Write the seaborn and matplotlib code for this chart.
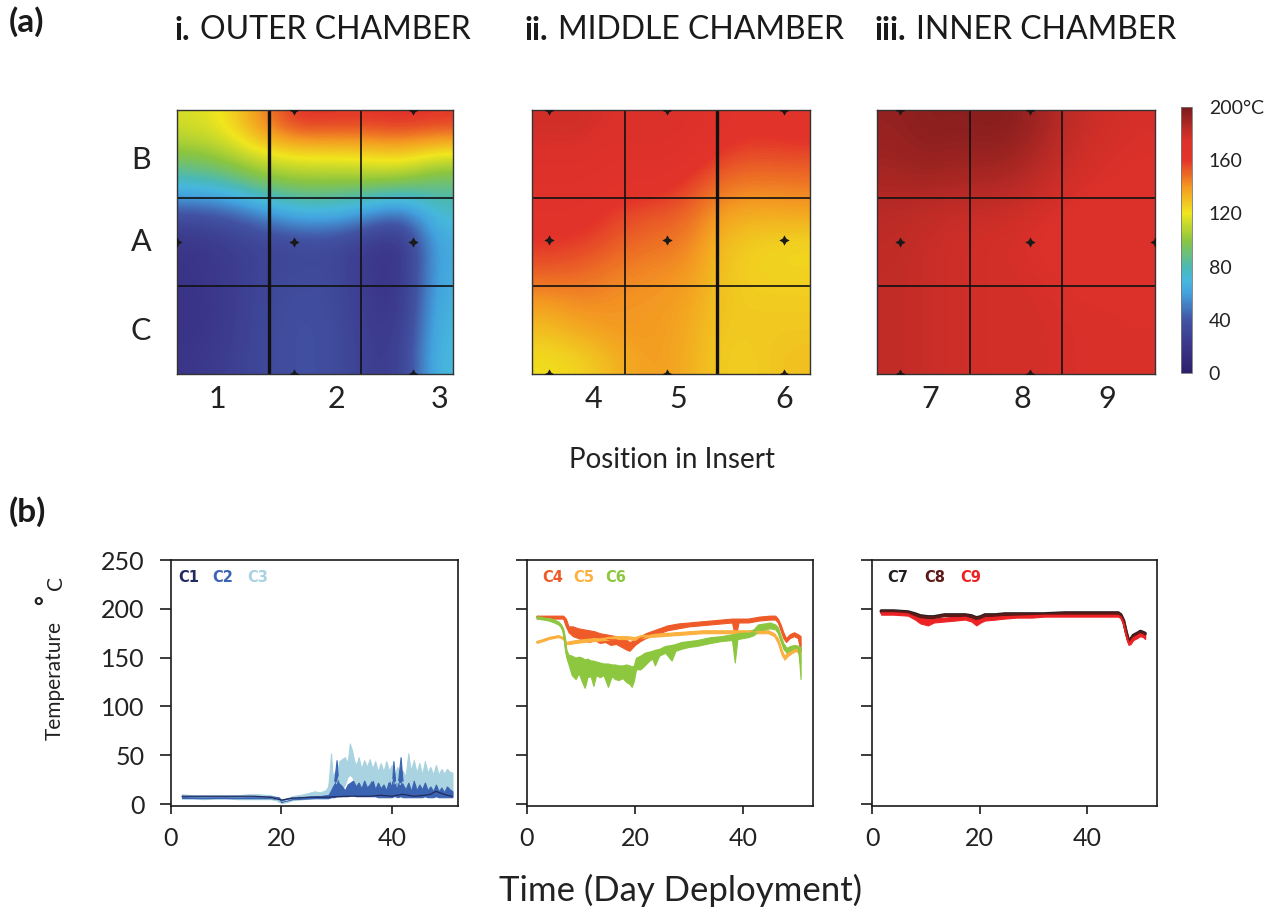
import numpy as np
import pandas as pd
import matplotlib
matplotlib.use("Agg")
import matplotlib.pyplot as plt
from matplotlib.colors import LinearSegmentedColormap
import seaborn as sns

# ---------------------------------------------------------------- data
ROW_LABELS = ["B", "A", "C"]
COLUMN_LABELS = [["1", "2", "3"], ["4", "5", "6"], ["7", "8", "9"]]
CHAMBER_NAMES = [("i.", "OUTER CHAMBER"), ("ii.", "MIDDLE CHAMBER"), ("iii.", "INNER CHAMBER")]

# temperature fields (deg C), rows top->bottom, columns left->right
OUTER_T = [
    [115, 122, 145, 162, 160, 160, 162, 160],
    [100, 108, 118, 122, 122, 124, 128, 118],
    [75, 82, 95, 100, 100, 100, 98, 88],
    [38, 42, 55, 68, 68, 58, 45, 75],
    [20, 25, 30, 32, 33, 24, 16, 65],
    [20, 24, 31, 34, 34, 23, 18, 65],
    [19, 24, 32, 37, 35, 24, 18, 68],
    [19, 24, 33, 38, 36, 25, 22, 70],
    [21, 26, 33, 38, 36, 26, 24, 72],
]
MIDDLE_T = [
    [178, 178, 174, 176, 174, 166, 162, 165],
    [174, 175, 170, 173, 168, 157, 155, 156],
    [170, 170, 164, 165, 158, 148, 146, 147],
    [165, 164, 157, 154, 151, 138, 135, 137],
    [160, 158, 152, 148, 146, 130, 126, 124],
    [152, 150, 145, 143, 141, 128, 125, 125],
    [140, 144, 141, 140, 138, 128, 127, 127],
    [130, 137, 140, 140, 136, 127, 128, 128],
    [122, 125, 134, 140, 135, 126, 127, 130],
]
INNER_T = [
    [193, 196, 195, 197, 192, 183, 178, 176],
    [191, 194, 192, 193, 188, 180, 176, 175],
    [188, 189, 187, 187, 183, 177, 175, 174],
    [184, 182, 180, 180, 177, 174, 173, 173],
    [183, 180, 178, 177, 175, 173, 173, 173],
    [182, 180, 178, 177, 176, 174, 174, 174],
    [182, 180, 178, 177, 177, 175, 175, 175],
    [182, 180, 178, 177, 177, 176, 175, 175],
    [182, 180, 178, 177, 177, 176, 175, 175],
]

# logger locations inside each insert (column units, row units from top)
OUTER_SENSOR_X = [1.27, 2.57, 0.0, 1.27, 2.57, 1.27, 2.57]
OUTER_SENSOR_Y = [0.0, 0.0, 1.5, 1.5, 1.5, 3.0, 3.0]
MIDDLE_SENSOR_X = [0.18, 1.46, 2.72, 0.18, 1.46, 2.72, 0.18, 1.46, 2.72]
MIDDLE_SENSOR_Y = [0.0, 0.0, 0.0, 1.48, 1.48, 1.48, 3.0, 3.0, 3.0]
INNER_SENSOR_X = [0.25, 1.65, 0.25, 1.65, 3.0, 0.25, 1.65]
INNER_SENSOR_Y = [0.0, 0.0, 1.5, 1.5, 1.5, 3.0, 3.0]

CBAR_TICKS = [0, 40, 80, 120, 160, 200]
CBAR_LABELS = ["0", "40", "80", "120", "160", "200°C"]

# logger traces: day of deployment, lower / upper envelope of the record (deg C)
C3_DAY = [2, 4, 6, 8, 10, 12, 14, 16, 18, 19, 20, 21, 22, 24, 26, 27, 28,
          28.5, 29.0, 29.3, 29.7, 30.0, 30.5, 31.0, 31.5, 32.0, 32.4, 32.8, 33.2, 33.6,
          34.0, 34.5, 35.0, 35.5, 36.0, 36.5, 37.0, 37.5, 38.0, 38.5, 39.0, 39.5,
          40.0, 40.5, 41.0, 41.5, 42.0, 42.5, 43.0, 43.4, 44.0, 44.5, 45.0, 45.5,
          46.0, 46.5, 47.0, 47.5, 48.0, 48.5, 49.0, 49.5, 50.0, 50.5, 51.0]
C3_LO = [6, 6, 5, 6, 6, 5, 5, 5, 5, 4, 1, 2, 4, 5, 6, 6, 6,
         6, 8, 10, 12, 12, 13, 15, 20, 28, 30, 28, 24, 16,
         11, 12, 11, 12, 12, 11, 11, 12, 11, 11, 12, 11,
         11, 11, 10, 10, 11, 11, 11, 11, 11, 10, 11, 10,
         11, 11, 10, 10, 11, 10, 11, 10, 10, 10, 10]
C3_HI = [10, 9, 9, 9, 9, 9, 10, 10, 9, 7, 5, 6, 8, 10, 13, 12, 14,
         18, 52, 28, 33, 30, 44, 46, 48, 42, 62, 55, 44, 40,
         48, 36, 45, 38, 46, 36, 44, 33, 42, 33, 44, 34,
         40, 30, 38, 30, 34, 28, 52, 34, 45, 32, 42, 30,
         44, 32, 38, 30, 40, 30, 36, 31, 36, 33, 32]

C2_DAY = [2, 6, 10, 14, 18, 19.5, 20, 20.5, 22, 26, 28,
          28.5, 29.0, 29.5, 30.0, 30.3, 31.0, 31.5, 32.0, 32.5, 33.0, 33.5, 34.0,
          34.5, 35.0, 35.5, 36.0, 36.5, 37.0, 37.5, 38.0, 38.5, 39.0, 39.5, 40.0,
          40.3, 40.7, 41.0, 41.6, 42.0, 42.5, 43.0, 43.5, 44.0, 44.5, 45.0, 45.5,
          46.0, 46.5, 47.0, 47.5, 48.0, 48.5, 49.0, 49.5, 50.0, 50.5, 51.0]
C2_LO = [6, 6, 6, 6, 6, 5, 2, 3, 5, 6, 6,
         6, 7, 7, 8, 8, 8, 8, 8, 9, 9, 8, 8,
         8, 8, 8, 8, 8, 8, 7, 7, 7, 7, 7, 7,
         8, 8, 7, 8, 7, 7, 7, 7, 7, 7, 7, 7,
         8, 7, 7, 7, 8, 7, 7, 7, 7, 7, 7]
C2_HI = [8, 8, 8, 8, 8, 7, 4, 5, 7, 8, 9,
         9, 14, 20, 45, 22, 18, 14, 20, 22, 24, 18, 22,
         16, 24, 17, 20, 25, 15, 22, 16, 20, 14, 24, 17,
         44, 18, 16, 48, 20, 15, 22, 13, 24, 14, 20, 15,
         22, 14, 18, 13, 20, 13, 17, 12, 18, 15, 13]

C1_DAY = [2, 5, 10, 15, 18, 20, 22, 25, 28, 32, 36, 38, 40, 42, 44, 46, 47, 48, 49, 50, 51]
C1_T = [8, 8, 8, 8, 7, 4, 6, 7, 7, 8, 8, 9, 8, 10, 8, 9, 10, 13, 11, 9, 8]

C4_DAY = [1.8, 4, 6.7, 7.2, 7.7, 8.5, 9.5, 10.5, 11.5, 12.5, 13.5, 14.5, 15.5, 16.5, 17.5,
          18.5, 19.0, 19.5, 20.0, 21.0, 22.0, 23.0, 24.0, 25.0, 26.0, 28.0, 30.0, 32.0,
          34.0, 36.0, 38.0, 38.6, 39.2, 41.0, 43.0, 45.0, 46.0, 46.5, 47.0, 47.5, 48.0,
          48.7, 49.5, 50.2, 50.7]
C4_LO = [190, 190, 190, 182, 176, 172, 170, 168, 166, 168, 165, 166, 163, 164, 161,
         158, 157, 160, 163, 167, 170, 172, 174, 176, 178, 180, 182, 183,
         184, 185, 186, 170, 186, 186, 188, 189, 189, 186, 178, 170, 166,
         170, 172, 170, 156]
C4_HI = [193, 193, 193, 190, 182, 182, 180, 179, 178, 177, 175, 174, 173, 172, 170,
         168, 166, 167, 168, 172, 175, 177, 179, 181, 183, 185, 186, 187,
         188, 189, 190, 190, 190, 190, 192, 193, 193, 190, 184, 176, 170,
         174, 176, 174, 172]

C5_DAY = [1.8, 3, 4, 5.8, 6.7, 7.3, 8.0, 9.0, 10.5, 12.5, 14.5, 16.5, 18.5, 20.0, 21.0,
          22.5, 25.0, 27.5, 30.0, 32.5, 35.0, 37.5, 40.0, 42.5, 44.7, 45.8, 46.5, 47.2,
          47.7, 48.4, 49.2, 49.9, 50.6]
C5_LO = [165, 167, 169, 171, 169, 164, 164, 165, 166, 167, 168, 169, 169, 168, 170,
         171, 172, 173, 174, 175, 175, 175, 175, 175, 175, 172, 165, 153,
         148, 152, 155, 157, 153]
C5_HI = [167, 169, 171, 173, 171, 166, 167, 168, 169, 170, 171, 172, 172, 171, 173,
         174, 175, 176, 177, 178, 178, 178, 178, 178, 178, 175, 170, 158,
         152, 156, 158, 160, 157]

C6_DAY = [1.8, 3.0, 4.0, 5.0, 5.8, 6.3, 6.7, 7.0, 7.3, 7.7, 8.3, 9.0, 9.6, 10.2, 10.7,
          11.2, 11.8, 12.3, 12.8, 13.5, 14.2, 15.0, 15.7, 16.3, 17.0, 17.7, 18.4, 19.0,
          19.4, 19.8, 20.2, 21.0, 21.8, 22.5, 23.2, 23.7, 24.5, 25.6, 26.8, 27.5, 28.6,
          30.0, 31.5, 32.3, 34.0, 36.0, 38.0, 38.5, 39.0, 41.0, 42.0, 42.8, 44.0, 45.0,
          46.0, 46.5, 47.0, 47.5, 48.1, 48.8, 49.6, 50.3, 50.7]
C6_LO = [190, 189, 188, 186, 184, 181, 175, 160, 150, 143, 132, 128, 134, 125, 119,
         130, 131, 121, 132, 130, 132, 120, 131, 128, 127, 129, 125, 123,
         120, 126, 138, 138, 142, 146, 149, 142, 152, 155, 147, 157, 159,
         161, 162, 163, 165, 167, 168, 145, 169, 171, 173, 177, 179, 180,
         179, 175, 167, 159, 155, 157, 158, 158, 128]
C6_HI = [193, 192, 191, 189, 187, 184, 180, 172, 158, 153, 152, 150, 151, 150, 148,
         149, 147, 147, 146, 145, 144, 144, 143, 143, 142, 142, 143, 142,
         141, 142, 150, 152, 155, 156, 157, 158, 159, 162, 163, 164, 166,
         167, 168, 169, 171, 172, 174, 174, 175, 177, 179, 184, 185, 186,
         184, 181, 173, 165, 160, 162, 163, 162, 161]

INNER_DAY = [1.7, 4, 6.7, 8, 9, 10.4, 11.5, 13.5, 15.5, 17.3, 18.5, 19.4, 20.2, 21, 23,
             24.7, 27, 29.7, 32, 35.9, 38, 40, 42.1, 44, 45.8, 46.3, 46.8, 47.3, 47.7,
             48.1, 48.6, 49.3, 49.9, 50.4, 50.8]
C7_T = [198, 198, 197, 195, 193, 192, 192, 194, 194, 194, 193, 191, 192, 194, 194,
        195, 195, 195, 195, 196, 196, 196, 196, 196, 196, 194, 188, 176, 168,
        169, 173, 175, 177, 176, 175]
C8_T = [197, 197, 196, 194, 192, 191, 191, 193, 193, 193, 192, 190, 191, 193, 193,
        194, 194, 194, 194, 195, 195, 195, 195, 195, 195, 193, 187, 175, 167,
        168, 172, 174, 176, 175, 174]
C9_LO = [194, 194, 193, 189, 185, 183, 186, 187, 188, 189, 187, 183, 186, 188, 189,
         190, 191, 191, 192, 192, 192, 192, 192, 192, 192, 190, 183, 171, 163,
         164, 168, 170, 172, 171, 169]
C9_HI = [197, 197, 196, 193, 191, 190, 190, 191, 192, 193, 191, 189, 190, 192, 193,
         193, 193, 194, 194, 194, 194, 194, 194, 194, 194, 192, 187, 175, 167,
         168, 172, 174, 176, 175, 173]

SERIES_NAMES = [["C1", "C2", "C3"], ["C4", "C5", "C6"], ["C7", "C8", "C9"]]
SERIES_COLORS = [["#232a5e", "#3a63b1", "#a9d3e0"],
                 ["#ef5a29", "#fbb040", "#8dc63f"],
                 ["#231f20", "#5b1a18", "#ed2224"]]

# ---------------------------------------------------------------- style
sns.set_theme(style="white")
plt.rcParams["font.family"] = ["Lato", "DejaVu Sans"]
plt.rcParams["axes.linewidth"] = 1.2

W, H = 1271, 914
fig = plt.figure(figsize=(W / 100, H / 100), dpi=100, facecolor="white")


def px_axes(x0, y0, x1, y1):
    return fig.add_axes([x0 / W, 1 - y1 / H, (x1 - x0) / W, (y1 - y0) / H])


def px_text(x, y, s, **kw):
    return fig.text(x / W, 1 - y / H, s, **kw)


temp_cmap = LinearSegmentedColormap.from_list("chamber", [
    (0.00, "#2c1f6b"), (0.10, "#3b3589"), (0.20, "#4254a4"), (0.30, "#43a3de"),
    (0.35, "#47b8dc"), (0.40, "#4cb9b2"), (0.50, "#8cc63f"), (0.60, "#f0e61e"),
    (0.70, "#f49a22"), (0.80, "#e3342a"), (0.875, "#dc312a"), (0.925, "#b82a26"),
    (1.00, "#7a1b1b")])

# ---------------------------------------------------------------- (a) heat maps
heat_boxes = [(177, 110, 453, 374), (532, 110, 810, 374), (877, 110, 1155, 374)]
fields = [OUTER_T, MIDDLE_T, INNER_T]
sensors = [(OUTER_SENSOR_X, OUTER_SENSOR_Y), (MIDDLE_SENSOR_X, MIDDLE_SENSOR_Y),
           (INNER_SENSOR_X, INNER_SENSOR_Y)]
thick_col = [1, 2, None]
col_label_x = [[217, 336, 440], [593, 678, 784], [930, 1022, 1107]]
title_left = [175, 525, 875]

im = None
for k, box in enumerate(heat_boxes):
    ax = px_axes(*box)
    im = ax.imshow(np.array(fields[k], dtype=float), cmap=temp_cmap, vmin=0, vmax=200,
                   interpolation="bicubic", extent=(0, 3, 3, 0), aspect="auto")
    for v in (1, 2):
        ax.axvline(v, color="#111111", lw=2.4 if thick_col[k] == v else 1.2)
        ax.axhline(v, color="#111111", lw=1.2)
    sx, sy = sensors[k]
    ax.scatter(sx, sy, marker=(4, 1, 0), s=55, color="#1a1a1a", lw=0, zorder=5, clip_on=True)
    ax.set_xlim(0, 3)
    ax.set_ylim(3, 0)
    ax.set_xticks([])
    ax.set_yticks([])
    for sp in ax.spines.values():
        sp.set_color("#333333")
        sp.set_linewidth(1.0)
    for lab, xx in zip(COLUMN_LABELS[k], col_label_x[k]):
        px_text(xx, 399, lab, fontsize=22, ha="center", va="center", color="#222222")
    # chamber title: bold numeral, regular name
    bold, name = CHAMBER_NAMES[k]
    t = px_text(title_left[k], 30, bold, fontsize=23, fontweight="bold", ha="left",
                va="center", color="#1a1a1a")
    fig.canvas.draw()
    bb = t.get_window_extent()
    px_text(bb.x1 + 9, 30, name, fontsize=23, ha="left", va="center", color="#1a1a1a")

for lab, yy in zip(ROW_LABELS, [160, 242, 331]):
    px_text(141, yy, lab, fontsize=22, ha="center", va="center", color="#222222")

cax = px_axes(1181, 107, 1192, 373)
cb = fig.colorbar(im, cax=cax, ticks=CBAR_TICKS)
cb.ax.set_yticklabels(CBAR_LABELS)
cb.ax.tick_params(length=0, labelsize=14, pad=12, colors="#222222")
cb.outline.set_edgecolor("#777777")
cb.outline.set_linewidth(0.6)

px_text(672, 460, "Position in Insert", fontsize=20, ha="center", va="center", color="#222222")

# ---------------------------------------------------------------- (b) logger traces
line_boxes = [(171, 560, 458, 806), (527, 560, 813, 806), (872, 560, 1157, 806)]
xmax = [52, 53, 53]


def draw_band(ax, days, lo, hi, color, lw=1.0):
    frame = pd.DataFrame({"day": np.repeat(np.asarray(days, float), 2),
                          "temp": np.column_stack([lo, hi]).ravel()})
    sns.lineplot(data=frame, x="day", y="temp", ax=ax, color=color, lw=lw,
                 errorbar=("pi", 100), legend=False,
                 err_kws={"alpha": 1, "linewidth": 0.8, "edgecolor": color})


def draw_line(ax, days, vals, color, lw=1.6):
    sns.lineplot(x=days, y=vals, ax=ax, color=color, lw=lw, estimator=None, legend=False)


axes_b = [px_axes(*b) for b in line_boxes]
c = SERIES_COLORS
draw_band(axes_b[0], C3_DAY, C3_LO, C3_HI, c[0][2])
draw_band(axes_b[0], C2_DAY, C2_LO, C2_HI, c[0][1], lw=0.6)
draw_line(axes_b[0], C1_DAY, C1_T, c[0][0], lw=0.9)

draw_band(axes_b[1], C4_DAY, C4_LO, C4_HI, c[1][0], lw=1.2)
draw_band(axes_b[1], C5_DAY, C5_LO, C5_HI, c[1][1], lw=1.2)
draw_band(axes_b[1], C6_DAY, C6_LO, C6_HI, c[1][2], lw=1.2)

draw_line(axes_b[2], INNER_DAY, C7_T, c[2][0], lw=2.2)
draw_line(axes_b[2], INNER_DAY, C8_T, c[2][1], lw=2.2)
draw_band(axes_b[2], INNER_DAY, C9_LO, C9_HI, c[2][2], lw=1.4)

legend_x = [[178, 212, 247], [542, 573, 605], [887, 924, 960]]
for k, ax in enumerate(axes_b):
    ax.set_xlim(0, xmax[k])
    ax.set_ylim(-2, 250)
    ax.set_xticks([0, 20, 40])
    ax.set_yticks([0, 50, 100, 150, 200, 250])
    ax.set_xlabel("")
    ax.set_ylabel("")
    ax.tick_params(axis="both", which="both", direction="out", colors="#1a1a1a",
                   labelcolor="#222222", labelsize=18, width=1.2, bottom=True, left=True)
    ax.tick_params(axis="x", length=6, pad=9)
    ax.tick_params(axis="y", length=8, pad=11, labelleft=(k == 0))
    for sp in ax.spines.values():
        sp.set_color("#1a1a1a")
        sp.set_linewidth(1.2)
        sp.set_visible(True)
    for name, col, xx in zip(SERIES_NAMES[k], SERIES_COLORS[k], legend_x[k]):
        px_text(xx, 577, name, fontsize=10.5, fontweight="bold", family="DejaVu Sans",
                color=col, ha="left", va="center")

px_text(55, 681, "Temperature", fontsize=15, rotation=90, ha="center", va="center", color="#222222")
px_text(46, 600, "°", fontsize=17, fontweight="bold", rotation=90, ha="center", va="center",
        color="#222222")
px_text(56, 583, "C", fontsize=15, rotation=90, ha="center", va="center", color="#222222")
px_text(681, 890, "Time (Day Deployment)", fontsize=25, ha="center", va="center", color="#222222")

px_text(9, 22, "(a)", fontsize=24, fontweight="bold", ha="left", va="center", color="#1a1a1a")
px_text(9, 512, "(b)", fontsize=24, fontweight="bold", ha="left", va="center", color="#1a1a1a")

fig.savefig("out.png", dpi=100, facecolor="white")
